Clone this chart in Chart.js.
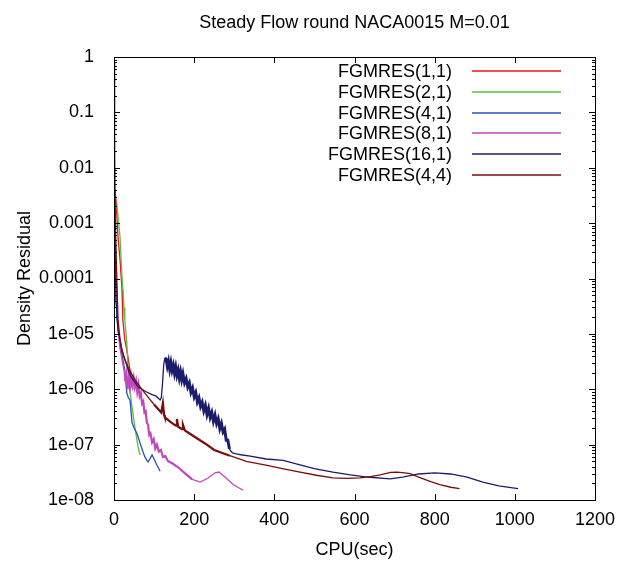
<!DOCTYPE html>
<html>
<head>
<meta charset="utf-8">
<script src="https://cdn.jsdelivr.net/npm/chart.js@4/dist/chart.umd.min.js"></script>
<style>
  html, body { margin: 0; padding: 0; background: #fff; }
  #wrap { width: 631px; height: 561px; }
</style>
</head>
<body>
<div id="wrap"><canvas id="myChart" width="631" height="561"></canvas></div>
<script>
// series labels and colours
const seriesNames = ['FGMRES(1,1)', 'FGMRES(2,1)', 'FGMRES(4,1)', 'FGMRES(8,1)', 'FGMRES(16,1)', 'FGMRES(4,4)'];
const seriesColors = ['#e8141c', '#5cc040', '#2a50b8', '#c048b8', '#1c1c6c', '#7c0c0c'];

// x = CPU seconds, y = density residual
const cpu11 = [0, 5, 10, 15, 20, 22, 27, 32, 40, 45, 47];
const res11 = [5e-3, 2.6e-3, 5.6e-4, 2.2e-4, 6.3e-5, 1.8e-5, 7.8e-6, 5.1e-6, 2.2e-6, 1.1e-6, 1.05e-6];

const cpu21 = [0, 3, 7.5, 15, 20, 25, 27, 32, 35, 40, 45, 52, 60, 65];
const res21 = [3e-3, 1.8e-3, 2.1e-3, 5.6e-4, 1.07e-4, 3e-5, 1.8e-5, 6.9e-6, 2.2e-6, 9e-7, 4.8e-7, 2.1e-7, 9.1e-8, 6.5e-8];

const cpu41 = [0, 2.5, 5, 7.5, 15, 22, 27, 32, 36, 40, 45, 50, 57, 65, 72, 77, 82, 85, 90, 95, 100, 107, 115];
const res41 = [1e-2, 3.3e-4, 5e-5, 1.8e-5, 6.3e-6, 3.5e-6, 2.2e-6, 8.5e-7, 7e-7, 6.4e-7, 2.5e-7, 2.0e-7, 1.6e-7, 1.07e-7, 7.5e-8, 6e-8, 5.2e-8, 4.9e-8, 5.6e-8, 6.5e-8, 5.5e-8, 4.3e-8, 3.3e-8];

const cpu81 = [0, 3, 5, 10, 15, 20, 25, 28, 31, 34, 37, 40, 43, 46, 49, 52, 55, 58, 61, 64, 67, 70, 73, 76, 79, 82, 85, 88, 91, 95, 99, 103, 107, 112, 117, 122, 128, 135, 145, 160, 178, 195, 215, 235, 252, 262, 277, 297, 322];
const res81 = [3e-3, 4e-4, 9.5e-5, 1.2e-5, 5.5e-6, 3.4e-6, 2.2e-6, 1.4e-6, 1.9e-6, 1.0e-6, 1.6e-6, 1.1e-6, 1.7e-6, 1.2e-6, 1.6e-6, 1.1e-6, 1.4e-6, 9e-7, 1.2e-6, 7.5e-7, 8.5e-7, 5.5e-7, 6e-7, 3.8e-7, 4e-7, 2.5e-7, 2.3e-7, 1.5e-7, 1.6e-7, 1.1e-7, 1.25e-7, 8.5e-8, 1.0e-7, 7.5e-8, 8e-8, 6e-8, 6.2e-8, 5e-8, 4.6e-8, 3.9e-8, 3e-8, 2.35e-8, 2.1e-8, 2.5e-8, 3.1e-8, 3.2e-8, 2.6e-8, 1.9e-8, 1.5e-8];

const cpu161 = [0, 1, 2.5, 5, 10, 20, 40, 60, 80, 95, 105, 115, 118, 121, 124, 127,
  130, 133, 136, 139, 142, 145, 148, 151, 154, 157, 160, 163, 166, 169, 172, 176, 180, 184, 188, 192, 196, 200,
  204, 208, 212, 216, 220, 224, 228, 232, 236, 240, 244, 248, 252, 256, 260, 264, 268, 272, 276, 280, 284, 288,
  292, 296, 305, 320, 340, 380, 422, 464, 500, 546, 590, 631, 689, 720, 760, 800, 840, 881, 920, 960, 1008];
const res161 = [0.8, 0.02, 2.6e-3, 4e-5, 1.2e-5, 5e-6, 1.8e-6, 1.1e-6, 9e-7, 8e-7, 7.5e-7, 6.4e-7, 7e-7, 1.26e-6, 2.8e-6, 3.7e-6,
  3.5e-6, 2.6e-6, 3.2e-6, 2.3e-6, 3.0e-6, 2.2e-6, 2.7e-6, 1.95e-6, 2.5e-6, 1.8e-6, 2.2e-6, 1.6e-6, 2.05e-6, 1.5e-6, 1.9e-6, 1.3e-6, 1.55e-6, 1.1e-6, 1.3e-6, 8.8e-7, 1.05e-6, 7.3e-7,
  8.7e-7, 5.9e-7, 7.0e-7, 4.9e-7, 5.8e-7, 4.1e-7, 5.1e-7, 3.5e-7, 4.5e-7, 3.1e-7, 3.8e-7, 2.65e-7, 3.4e-7, 2.4e-7, 2.9e-7, 1.95e-7, 2.4e-7, 1.7e-7, 1.9e-7, 1.2e-7, 1.2e-7, 8.3e-8,
  7.6e-8, 7.1e-8, 6.8e-8, 6.5e-8, 6.2e-8, 5.5e-8, 5.2e-8, 4.3e-8, 3.7e-8, 3.2e-8, 2.85e-8, 2.6e-8, 2.4e-8, 2.6e-8, 2.95e-8, 3.1e-8, 2.95e-8, 2.6e-8, 2.1e-8, 1.8e-8, 1.6e-8];

const cpu44 = [0, 1, 2, 5, 10, 15, 20, 27, 40, 52, 65, 77, 90, 100, 110, 118, 122, 125, 127, 140, 150, 155, 157, 160, 170, 172, 177, 200, 227, 250,
  289, 330, 382, 420, 464, 505, 546, 580, 614, 640, 664, 690, 706, 725, 739, 760, 790, 813, 840, 862];
const res44 = [0.8, 0.03, 5e-3, 3.3e-4, 1.8e-5, 8e-6, 5e-6, 3.4e-6, 2.1e-6, 1.5e-6, 1.1e-6, 8.5e-7, 6.5e-7, 5.3e-7, 4.4e-7, 3.8e-7, 5.6e-7, 3.4e-7, 3.1e-7, 2.6e-7, 2.3e-7, 2.2e-7, 2.9e-7, 2.1e-7, 1.9e-7, 2.3e-7, 1.8e-7, 1.4e-7, 1.05e-7, 8e-8,
  6.3e-8, 5e-8, 4.2e-8, 3.7e-8, 3.2e-8, 2.8e-8, 2.5e-8, 2.45e-8, 2.5e-8, 2.65e-8, 2.85e-8, 3.15e-8, 3.2e-8, 3.1e-8, 3.0e-8, 2.6e-8, 2.15e-8, 1.9e-8, 1.7e-8, 1.6e-8];

const cpuSeries = [cpu11, cpu21, cpu41, cpu81, cpu161, cpu44];
const resSeries = [res11, res21, res41, res81, res161, res44];

// cpu ranges where the trace is a noisy band
const noisyFrom = [null, null, null, 28, 127, 100];
const noisyTo = [null, null, null, 200, 290, 300];

// axis ticks
const xTicks = [0, 200, 400, 600, 800, 1000, 1200];
const yTicks = [1, 0.1, 0.01, 0.001, 0.0001, 1e-5, 1e-6, 1e-7, 1e-8];
const yTickLabels = ['1', '0.1', '0.01', '0.001', '0.0001', '1e-05', '1e-06', '1e-07', '1e-08'];

const FONT = '"Liberation Sans", Arial, sans-serif';

const datasets = seriesNames.map((name, i) => ({
    label: name,
    data: cpuSeries[i].map((x, j) => ({ x: x, y: resSeries[i][j] })),
    borderColor: seriesColors[i],
    borderWidth: 1.3,
    pointRadius: 0,
    tension: 0,
    fill: false,
    order: seriesNames.length - i,
    segment: {
        borderWidth: c => {
            if (noisyFrom[i] === null) return undefined;
            const x0 = c.p0.parsed.x, x1 = c.p1.parsed.x;
            return (x0 >= noisyFrom[i] && x1 <= noisyTo[i]) ? (i === 4 ? 3 : 2.2) : undefined;
        }
    }
}));

// gnuplot style frame with inward ticks
const framePlugin = {
    id: 'frame',
    afterDatasetsDraw(chart) {
        const { ctx, chartArea: a, scales } = chart;
        ctx.save();
        ctx.strokeStyle = '#000';
        ctx.lineWidth = 1;
        ctx.strokeRect(Math.round(a.left) + 0.5, Math.round(a.top) + 0.5, Math.round(a.right - a.left), Math.round(a.bottom - a.top));
        ctx.beginPath();
        xTicks.forEach(v => {
            const px = Math.round(scales.x.getPixelForValue(v)) + 0.5;
            ctx.moveTo(px, a.bottom); ctx.lineTo(px, a.bottom - 6);
            ctx.moveTo(px, a.top); ctx.lineTo(px, a.top + 6);
        });
        yTicks.forEach(v => {
            const py = Math.round(scales.y.getPixelForValue(v)) + 0.5;
            ctx.moveTo(a.left, py); ctx.lineTo(a.left + 6, py);
            ctx.moveTo(a.right, py); ctx.lineTo(a.right - 6, py);
        });
        yTicks.slice(1).forEach(v => {
            for (let m = 2; m <= 9; m++) {
                const py = Math.round(scales.y.getPixelForValue(v * m)) + 0.5;
                ctx.moveTo(a.left, py); ctx.lineTo(a.left + 3, py);
                ctx.moveTo(a.right, py); ctx.lineTo(a.right - 3, py);
            }
        });
        ctx.stroke();
        ctx.restore();
    }
};

// key inside the plot, labels right aligned before a line sample
const keyPlugin = {
    id: 'key',
    afterDraw(chart) {
        const ctx = chart.ctx;
        ctx.save();
        ctx.font = '18px ' + FONT;
        ctx.textAlign = 'right';
        ctx.textBaseline = 'middle';
        seriesNames.forEach((name, i) => {
            const y = 71 + i * 20.8;
            ctx.fillStyle = '#000';
            ctx.fillText(name, 452, y + 1);
            ctx.strokeStyle = seriesColors[i];
            ctx.lineWidth = 1.3;
            ctx.beginPath();
            ctx.moveTo(472, Math.round(y));
            ctx.lineTo(561, Math.round(y));
            ctx.stroke();
        });
        ctx.restore();
    }
};

const ctx = document.getElementById('myChart');

new Chart(ctx, {
    type: 'line',
    data: { datasets: datasets },
    plugins: [framePlugin, keyPlugin],
    options: {
        responsive: false,
        animation: false,
        layout: { padding: { left: 0, right: 36, top: 0, bottom: 0 } },
        plugins: {
            legend: { display: false },
            tooltip: { enabled: false },
            title: {
                display: true,
                text: 'Steady Flow round NACA0015 M=0.01',
                color: '#000',
                fullSize: false,
                font: { family: FONT, size: 18, weight: 'normal' },
                padding: { top: 12, bottom: 23.4 }
            }
        },
        scales: {
            x: {
                type: 'linear',
                min: 0,
                max: 1200,
                afterBuildTicks: s => { s.ticks = xTicks.map(v => ({ value: v })); },
                afterFit: s => { s.height = 61; },
                grid: { display: false, drawTicks: false },
                border: { display: false },
                ticks: {
                    color: '#000',
                    padding: 9,
                    maxRotation: 0,
                    font: { family: FONT, size: 18 },
                    callback: v => String(v)
                },
                title: {
                    display: true,
                    text: 'CPU(sec)',
                    color: '#000',
                    font: { family: FONT, size: 18 },
                    padding: { top: 0, bottom: 0 }
                }
            },
            y: {
                type: 'logarithmic',
                min: 1e-8,
                max: 1,
                afterBuildTicks: s => { s.ticks = yTicks.map(v => ({ value: v })); },
                afterFit: s => { s.width = 114; },
                grid: { display: false, drawTicks: false },
                border: { display: false },
                ticks: {
                    color: '#000',
                    padding: 20,
                    font: { family: FONT, size: 18 },
                    callback: (v) => {
                        const k = yTicks.indexOf(v);
                        return k >= 0 ? yTickLabels[k] : '';
                    }
                },
                title: {
                    display: true,
                    text: 'Density Residual',
                    color: '#000',
                    font: { family: FONT, size: 18 },
                    padding: { top: 14, bottom: 0 }
                }
            }
        }
    }
});
</script>
</body>
</html>
